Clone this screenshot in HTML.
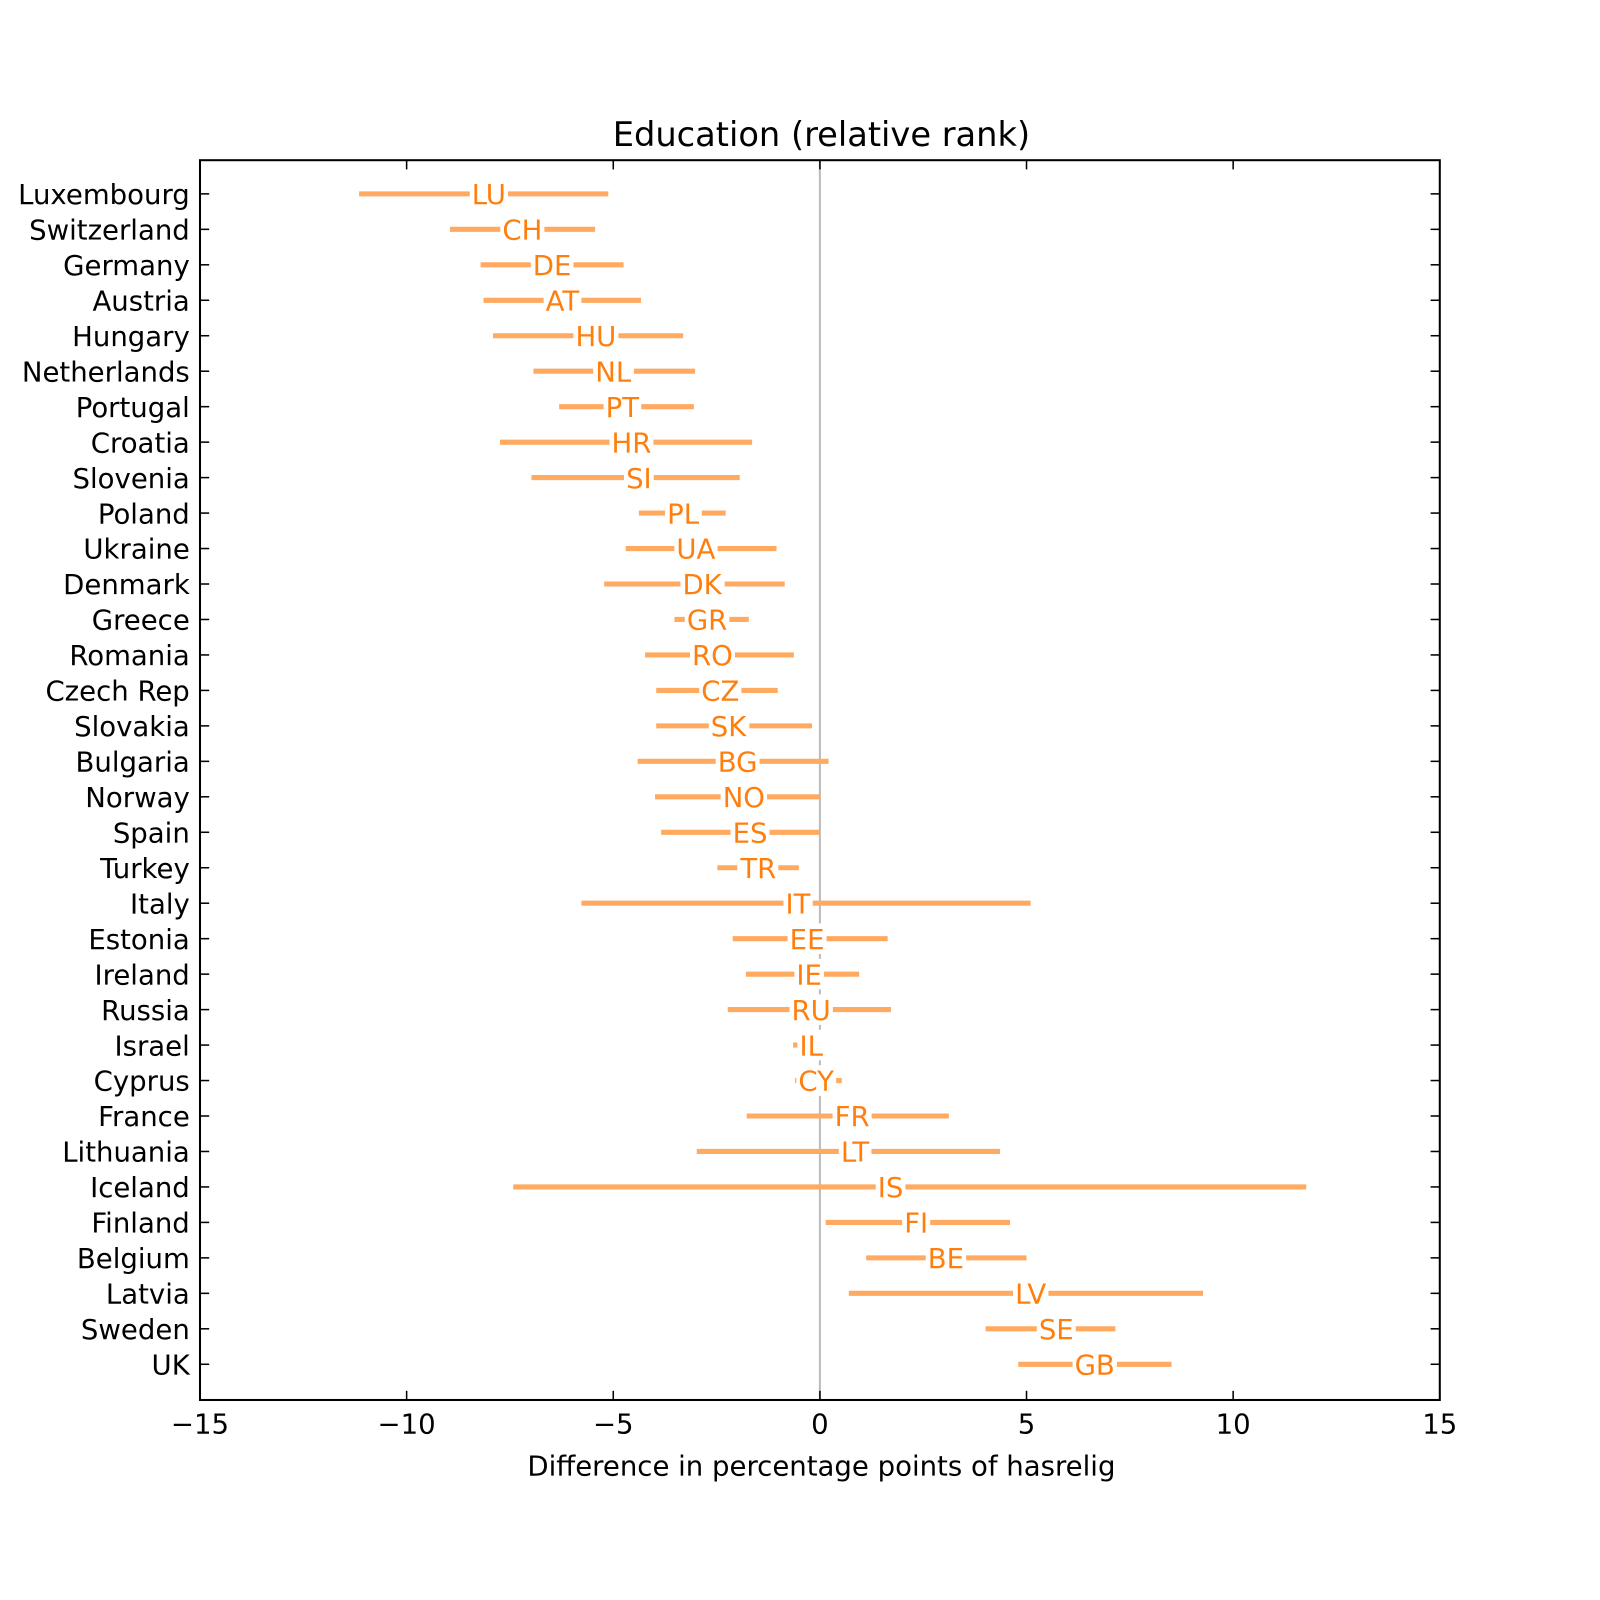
<!DOCTYPE html>
<html><head><meta charset="utf-8"><style>
html,body{margin:0;padding:0;background:#fff;}
svg{display:block;font-family:"DejaVu Sans","Liberation Sans",sans-serif;}
</style></head><body>
<svg id="chart" width="1600" height="1600" viewBox="0 0 1600 1600">
<rect x="0" y="0" width="1600" height="1600" fill="#fff"/>
<g transform="scale(1.0204)">
<text x="805" y="143" font-size="33" text-anchor="middle" fill="#000">Education (relative rank)</text>
<g id="plot"></g>
<text x="805" y="1446" font-size="27" text-anchor="middle" fill="#000">Difference in percentage points of hasrelig</text>
</g>
</svg>
<script>
const countries=["Luxembourg","Switzerland","Germany","Austria","Hungary","Netherlands","Portugal","Croatia","Slovenia","Poland","Ukraine","Denmark","Greece","Romania","Czech Rep","Slovakia","Bulgaria","Norway","Spain","Turkey","Italy","Estonia","Ireland","Russia","Israel","Cyprus","France","Lithuania","Iceland","Finland","Belgium","Latvia","Sweden","UK"];
const codes=["LU","CH","DE","AT","HU","NL","PT","HR","SI","PL","UA","DK","GR","RO","CZ","SK","BG","NO","ES","TR","IT","EE","IE","RU","IL","CY","FR","LT","IS","FI","BE","LV","SE","GB"];
const estimates=[-8.01,-7.2,-6.48,-6.23,-5.42,-5.0,-4.78,-4.56,-4.38,-3.31,-3.0,-2.85,-2.73,-2.6,-2.41,-2.21,-1.99,-1.84,-1.69,-1.49,-0.53,-0.31,-0.26,-0.21,-0.21,-0.09,0.78,0.85,1.71,2.33,3.05,5.1,5.72,6.65];
const lows=[-11.15,-8.95,-8.21,-8.14,-7.91,-6.93,-6.31,-7.74,-6.98,-4.38,-4.7,-5.22,-3.52,-4.23,-3.96,-3.96,-4.41,-3.99,-3.84,-2.48,-5.77,-2.11,-1.79,-2.23,-0.65,-0.6,-1.77,-2.98,-7.42,0.14,1.12,0.7,4.01,4.8];
const highs=[-5.12,-5.44,-4.75,-4.33,-3.31,-3.02,-3.05,-1.64,-1.94,-2.28,-1.05,-0.85,-1.72,-0.63,-1.02,-0.19,0.21,0.01,0.0,-0.51,5.1,1.64,0.95,1.72,0.1,0.53,3.12,4.36,11.77,4.6,5.0,9.27,7.15,8.51];
const xTicks=[-15,-10,-5,0,5,10,15];
const xTickLabels=["\u221215","\u221210","\u22125","0","5","10","15"];

const L=196,R=1411,T=157,B=1372;
const xs=v=>L+(v+15)/30*(R-L);
const ys=i=>190+i*(1337-190)/(countries.length-1);
const NS="http://www.w3.org/2000/svg";
const g=document.getElementById('plot');
function mk(t,a){const e=document.createElementNS(NS,t);for(const k in a)e.setAttribute(k,a[k]);return e;}
const z=mk('line',{x1:xs(0),x2:xs(0),y1:T,y2:B,stroke:'#bbbbbb','stroke-width':2});


g.appendChild(z);
countries.forEach((c,i)=>{
  const y=ys(i);
  const ln=mk('line',{x1:xs(lows[i]),x2:xs(highs[i]),y1:y,y2:y,stroke:'#ffaa60','stroke-width':5});
  
  
  g.appendChild(ln);
  const bg=mk('rect',{fill:'#fff'});
  
  
  g.appendChild(bg);
  const tx=mk('text',{x:xs(estimates[i]),y:y+10,'font-size':27,'text-anchor':'middle',fill:'#ff7f0e'});
  tx.textContent=codes[i];
  
  
  g.appendChild(tx);
  const bb=tx.getBBox();
  bg.setAttribute('x',bb.x-2);bg.setAttribute('y',y-15);bg.setAttribute('width',bb.width+4);bg.setAttribute('height',30);
  const yl=mk('text',{x:186,y:y+10,'font-size':27,'text-anchor':'end',fill:'#000'});
  yl.textContent=c;
  
  
  g.appendChild(yl);
  const t1=mk('line',{x1:L,x2:L+9,y1:y,y2:y,stroke:'#000','stroke-width':1.5});
  
  
  g.appendChild(t1);
  const t2=mk('line',{x1:R-9,x2:R,y1:y,y2:y,stroke:'#000','stroke-width':1.5});
  
  
  g.appendChild(t2);
});
xTicks.forEach((v,i)=>{
  const x=xs(v);
  const a=mk('line',{x1:x,x2:x,y1:B-9,y2:B,stroke:'#000','stroke-width':1.5});
  
  
  g.appendChild(a);
  const b=mk('line',{x1:x,x2:x,y1:T,y2:T+9,stroke:'#000','stroke-width':1.5});
  
  
  g.appendChild(b);
  const t=mk('text',{x:x,y:1405,'font-size':27,'text-anchor':'middle',fill:'#000'});
  t.textContent=xTickLabels[i];
  
  
  g.appendChild(t);
});
const fr=mk('rect',{x:L,y:T,width:R-L,height:B-T,fill:'none',stroke:'#000','stroke-width':2});


g.appendChild(fr);
</script>
</body></html>
